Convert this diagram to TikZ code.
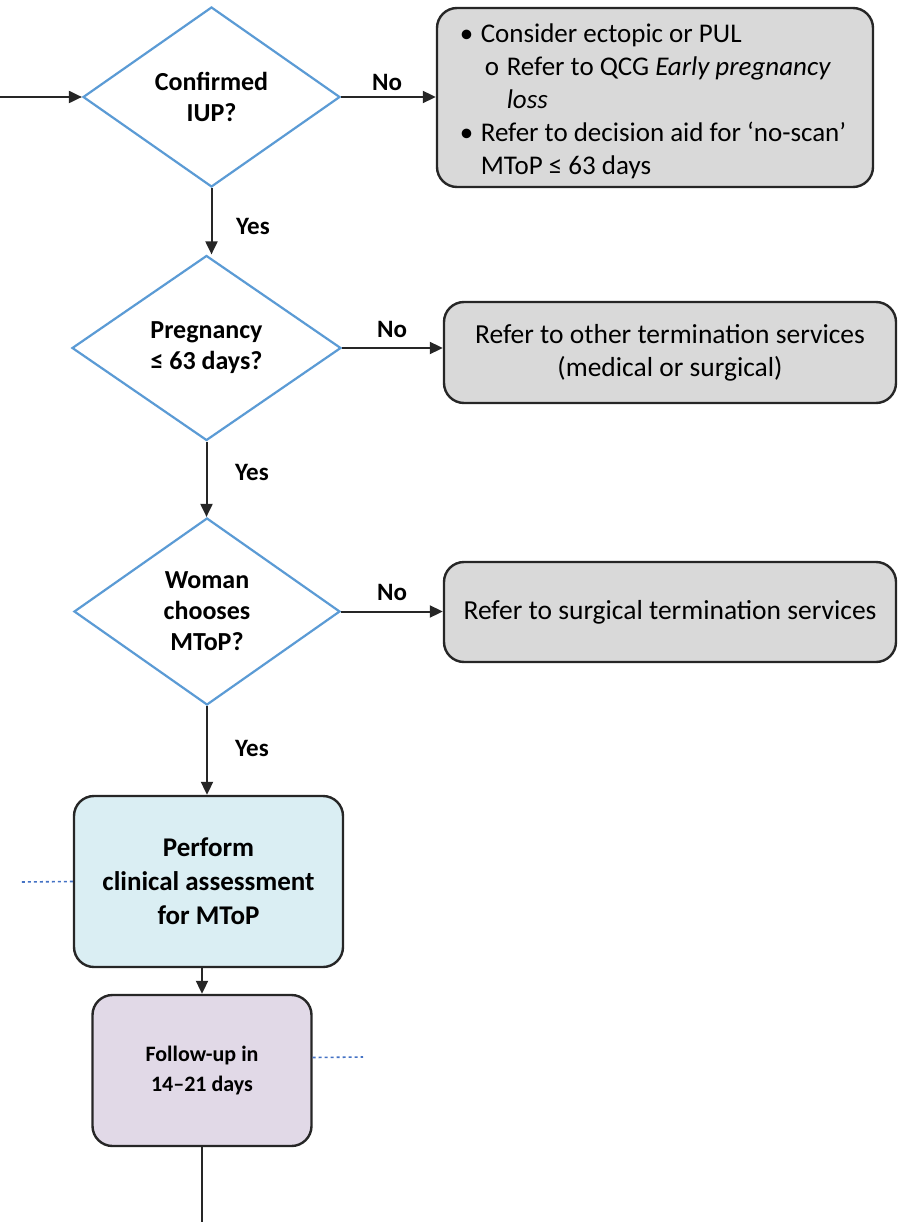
\documentclass[tikz,border=0pt]{standalone}
\usepackage{fontspec}
\setmainfont{Carlito}
\usetikzlibrary{shapes.geometric,arrows.meta}
\definecolor{decblue}{HTML}{5B9BD5}
\definecolor{boxgray}{HTML}{D9D9D9}
\definecolor{assessblue}{HTML}{DAEEF3}
\definecolor{followlilac}{HTML}{E1D9E7}
\definecolor{edgedark}{HTML}{262626}
\definecolor{dotblue}{HTML}{4472C4}
\tikzset{
  decision/.style={diamond, draw=decblue, line width=2.2pt, fill=white, inner sep=0pt,
    align=center, font=\fontsize{26}{31}\selectfont\bfseries},
  outbox/.style={draw=edgedark, line width=2.4pt, fill=boxgray, rounded corners=20pt,
    align=center, font=\fontsize{27.5}{33}\selectfont},
  flowbox/.style={draw=edgedark, line width=2.4pt, rounded corners=20pt, align=center},
  arr/.style={line width=2pt, draw=edgedark, -{Triangle[length=13pt,width=12pt]}},
  plain/.style={line width=2pt, draw=edgedark},
  branch/.style={font=\fontsize{25}{30}\selectfont\bfseries},
  offpage/.style={draw=dotblue, line width=1.6pt, dash pattern=on 3pt off 3pt},
}
\begin{document}
\begin{tikzpicture}[x=1pt,y=-1pt]
\useasboundingbox (0,0) rectangle (897,1222);

% decisions
\node[decision, minimum width=257pt, minimum height=180pt] (d1) at (211.5,97) {Confirmed\\IUP?};
\node[decision, minimum width=269pt, minimum height=185pt] (d2) at (206.5,348) {Pregnancy\\≤ 63 days?};
\node[decision, minimum width=266pt, minimum height=187pt] (d3) at (207,611.5) {Woman\\chooses\\MToP?};

% referral boxes
\node[outbox, minimum width=436pt, minimum height=179pt] (b1) at (655,97.5) {};
\node[align=left, inner sep=0pt, font=\fontsize{27}{33}\selectfont] (t1) at (653,101) {%
  \makebox[21pt][l]{•}Consider ectopic or PUL\\
  \hspace{25pt}\makebox[22pt][l]{o}Refer to QCG \textit{Early pregnancy}\\
  \hspace{47pt}\textit{loss}\\
  \makebox[21pt][l]{•}Refer to decision aid for ‘no-scan’\\
  \hspace{21pt}MToP ≤ 63 days};
\node[outbox, minimum width=452pt, minimum height=101pt] (b2) at (670,352.5) {Refer to other termination services\\(medical or surgical)};
\node[outbox, minimum width=452pt, minimum height=100pt] (b3) at (670,612) {Refer to surgical termination services};

% main path boxes
\node[flowbox, fill=assessblue, minimum width=269pt, minimum height=171pt,
  font=\fontsize{27}{34}\selectfont\bfseries] (b4) at (208.5,881.5) {Perform\\clinical assessment\\for MToP};
\node[flowbox, fill=followlilac, minimum width=219pt, minimum height=151pt,
  font=\fontsize{22}{30}\selectfont\bfseries] (b5) at (202,1070.5) {Follow-up in\\14–21 days};

% free ends
\coordinate (start) at (0,97);
\coordinate (tail) at (202,1222);
\coordinate (link4) at (20,882);
\coordinate (link5) at (363,1057);

% connectors
\draw[arr] (start) -- (d1.west);
\draw[arr] (d1.east) -- (d1.east -| b1.west);
\draw[arr] (d1.south) -- (d1.south |- d2.north);
\draw[arr] (d2.east) -- (d2.east -| b2.west);
\draw[arr] (d2.south) -- (d2.south |- d3.north);
\draw[arr] (d3.east) -- (d3.east -| b3.west);
\draw[arr] (d3.south) -- (d3.south |- b4.north);
\draw[arr] (b5.north |- b4.south) -- (b5.north);
\draw[plain] (b5.south) -- (tail);
\draw[offpage] (b4.west) -- (link4);
\draw[offpage] ([yshift=13pt]b5.east) -- (link5);

% branch labels
\node[branch] (n1) at (387,82) {No};
\node[branch] (y1) at (253,226) {Yes};
\node[branch] (n2) at (392,329) {No};
\node[branch] (y2) at (252,472) {Yes};
\node[branch] (n3) at (392,592) {No};
\node[branch] (y3) at (252,748) {Yes};
\end{tikzpicture}
\end{document}
